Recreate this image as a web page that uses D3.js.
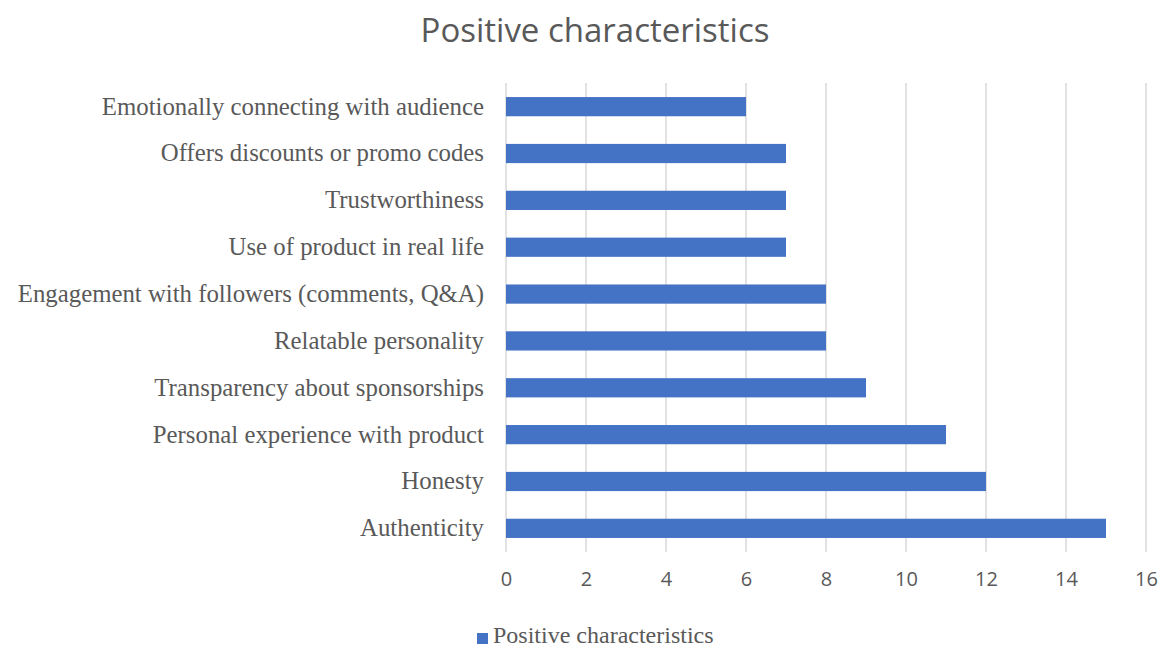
<!DOCTYPE html>
<html>
<head>
<meta charset="utf-8">
<script src="https://cdn.jsdelivr.net/npm/d3@7"></script>
<style>
  html, body { margin: 0; padding: 0; background: #fff; }
  svg { display: block; }
</style>
</head>
<body>
<svg id="chart" width="1167" height="649"></svg>
<script>
// Characteristics listed top to bottom, with the number of mentions for each
const categories = [
  "Emotionally connecting with audience",
  "Offers discounts or promo codes",
  "Trustworthiness",
  "Use of product in real life",
  "Engagement with followers (comments, Q&A)",
  "Relatable personality",
  "Transparency about sponsorships",
  "Personal experience with product",
  "Honesty",
  "Authenticity"
];
const values = [6, 7, 7, 7, 8, 8, 9, 11, 12, 15];
const xTicks = [0, 2, 4, 6, 8, 10, 12, 14, 16];
const seriesName = "Positive characteristics";
const chartTitle = "Positive characteristics";

const svg = d3.select("#chart");
const W = 1167, H = 649;
const margin = { left: 506, right: 21, top: 83, bottom: 97 };
const plotW = W - margin.left - margin.right;
const plotH = H - margin.top - margin.bottom;

const barColor = "#4472c4";
const textColor = "#595959";
const gridColor = "#d9d9d9";
const serif = "'Liberation Serif', 'DejaVu Serif', serif";
const sans = "'Open Sans', 'Noto Sans', sans-serif";

const x = d3.scaleLinear().domain([0, 16]).range([0, plotW]);
const y = d3.scaleBand().domain(categories).range([0, plotH]).paddingInner(0.59).paddingOuter(0.3);

const g = svg.append("g").attr("transform", `translate(${margin.left},${margin.top})`);

// Title
svg.append("text")
  .attr("x", 595).attr("y", 42)
  .attr("text-anchor", "middle")
  .attr("font-family", sans)
  .attr("font-size", 33)
  .attr("fill", textColor)
  .text(chartTitle);

// Vertical gridlines
g.append("g").selectAll("line").data(xTicks).join("line")
  .attr("x1", d => x(d)).attr("x2", d => x(d))
  .attr("y1", 0).attr("y2", plotH)
  .attr("stroke", gridColor).attr("stroke-width", 1.5);

// Bars
g.append("g").selectAll("rect").data(categories).join("rect")
  .attr("x", x(0))
  .attr("y", d => y(d))
  .attr("width", (d, i) => x(values[i]) - x(0))
  .attr("height", y.bandwidth())
  .attr("fill", barColor);

// Category labels
const yAxis = d3.axisLeft(y).tickSize(0).tickPadding(22);
const yg = g.append("g").call(yAxis);
yg.select(".domain").remove();
yg.selectAll("text")
  .attr("font-family", serif)
  .attr("font-size", 24.8)
  .attr("fill", textColor);

// Value axis labels
const xAxis = d3.axisBottom(x).tickValues(xTicks).tickSize(0).tickPadding(20).tickFormat(d3.format("d"));
const xg = g.append("g").attr("transform", `translate(0,${plotH})`).call(xAxis);
xg.select(".domain").remove();
xg.selectAll("text")
  .attr("font-family", sans)
  .attr("font-size", 20)
  .attr("fill", textColor);

// Legend
const legend = svg.append("g").attr("transform", "translate(477,638.5)");
legend.append("rect")
  .attr("x", 0).attr("y", -5.5).attr("width", 11).attr("height", 11)
  .attr("fill", barColor);
legend.append("text")
  .attr("x", 16).attr("y", 4.2)
  .attr("font-family", serif)
  .attr("font-size", 24)
  .attr("fill", textColor)
  .text(seriesName);
</script>
</body>
</html>
